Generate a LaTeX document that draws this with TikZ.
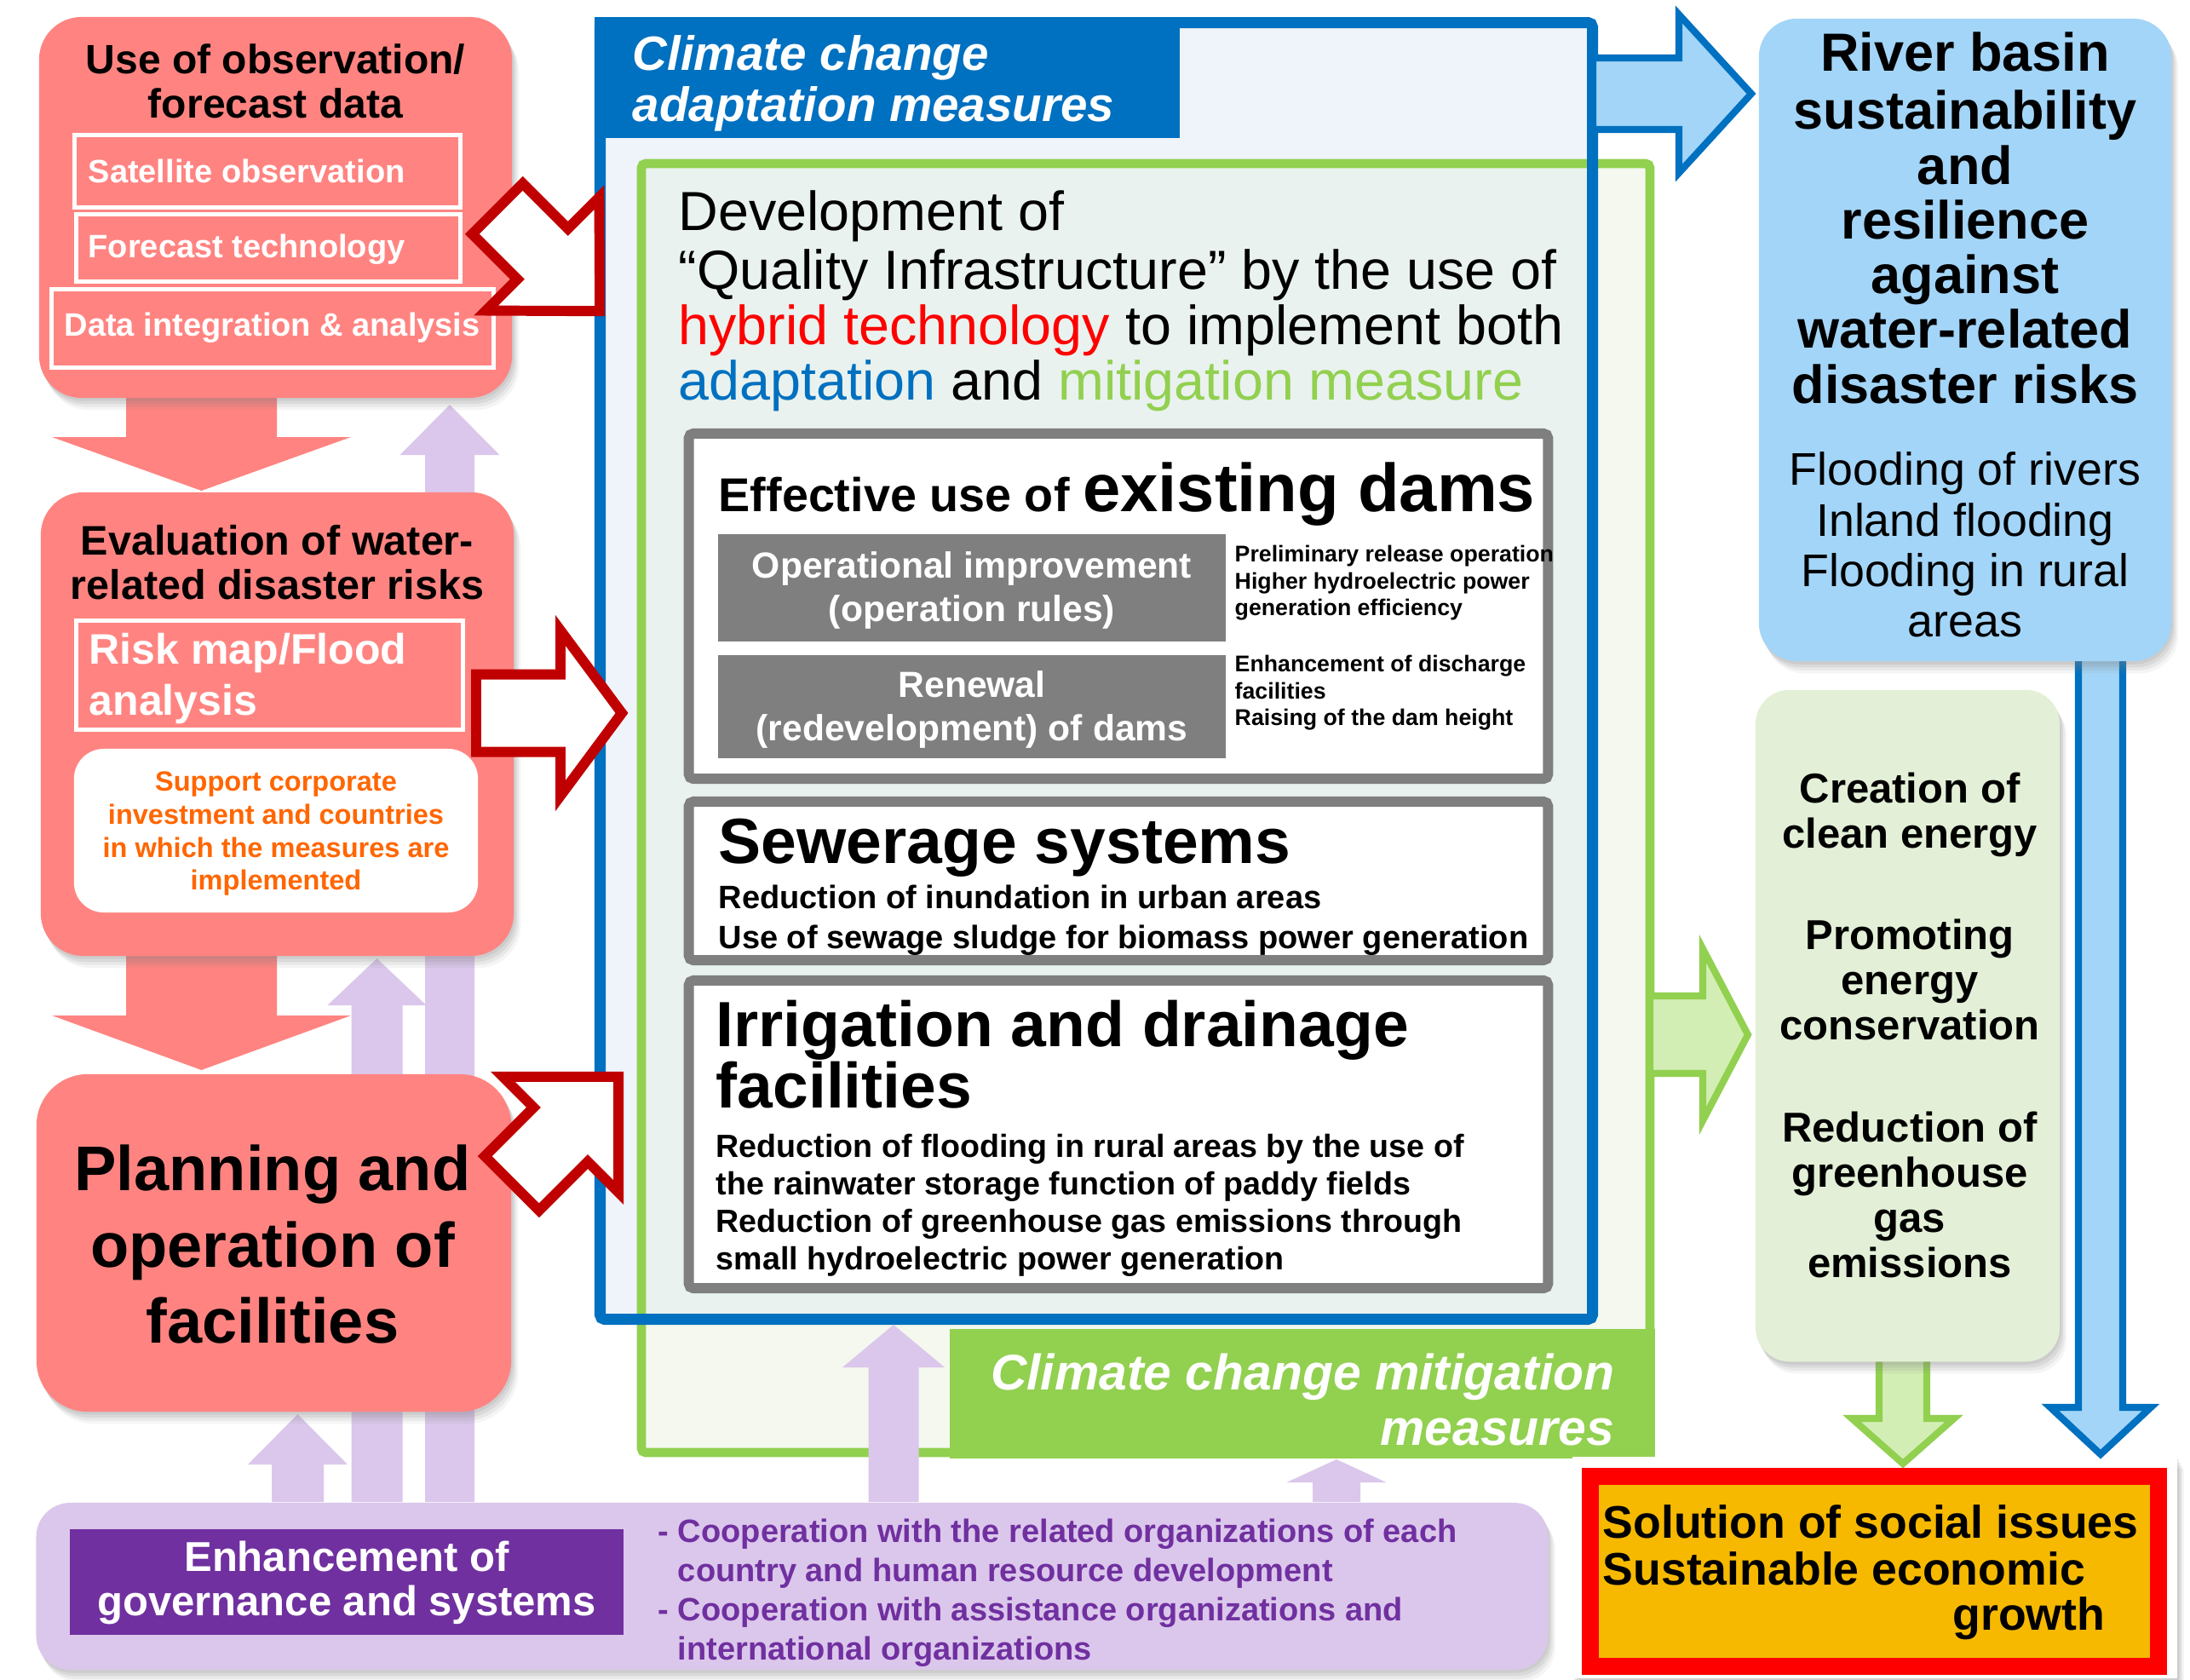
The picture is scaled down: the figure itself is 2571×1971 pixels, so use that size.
\documentclass[tikz,border=0pt]{standalone}
\usepackage{fontspec}
\setmainfont{Liberation Sans}
\usetikzlibrary{shadows}

\definecolor{salmon}{HTML}{FF8481}
\definecolor{lav}{HTML}{DBC7EB}
\definecolor{purp}{HTML}{7030A0}
\definecolor{adblue}{HTML}{0070C0}
\definecolor{skyfill}{HTML}{A3D5F8}
\definecolor{mitgreen}{HTML}{92D050}
\definecolor{palegreen}{HTML}{E3F0D7}
\definecolor{arrowgreen}{HTML}{D3EEB5}
\definecolor{darkred}{HTML}{C00000}
\definecolor{midgray}{HTML}{7F7F7F}
\definecolor{orangetext}{HTML}{FF6600}
\definecolor{gold}{HTML}{F6B900}
\definecolor{bluefill}{HTML}{EFF3FA}
\definecolor{greenfill}{HTML}{F4F8EE}
\definecolor{mixfill}{HTML}{E9F2EE}

% font size given in drawing units (1 unit = 0.01cm)
\newcommand\fpx[2]{\fontsize{\fpeval{round(#1*0.28453,2)}}{\fpeval{round(#2*0.28453,2)}}\selectfont}

% block arrow: style, tail coordinate, angle, length, shaft half-width, head length, head half-width
\newcommand\blockarrow[7]{%
  \path[#1, shift={(#2)}, rotate=#3]
    (0,-#5) -- ({#4-#6},-#5) -- ({#4-#6},-#7) -- (#4,0) -- ({#4-#6},#7) -- ({#4-#6},#5) -- (0,#5) -- cycle;}

\begin{document}
\begin{tikzpicture}[x=0.01cm, y=-0.01cm,
  softshadow/.style={
    drop shadow={opacity=0.14, shadow xshift=0.5pt, shadow yshift=-1pt},
    drop shadow={opacity=0.13, shadow xshift=1.1pt, shadow yshift=-2pt},
    drop shadow={opacity=0.11, shadow xshift=1.7pt, shadow yshift=-3pt},
    drop shadow={opacity=0.08, shadow xshift=2.3pt, shadow yshift=-4pt}},
  salmonbox/.style={fill=salmon, rounded corners=0.5cm, softshadow, inner sep=0},
  whiteframe/.style={draw=white, line width=1.5pt, fill=salmon, inner sep=0},
  graybox/.style={draw=midgray, line width=3.4pt, fill=white, rounded corners=1.5pt, inner sep=0},
  grayfill/.style={fill=midgray, inner sep=0},
  lavarrow/.style={fill=lav},
  salmonarrow/.style={fill=salmon},
  redarrow/.style={fill=white, draw=darkred, line width=3.4pt, line join=miter},
  bluearrow/.style={fill=skyfill, draw=adblue, line width=2.3pt, line join=miter},
  greenarrow/.style={fill=arrowgreen, draw=mitgreen, line width=2.3pt, line join=miter},
  txt/.style={inner sep=0}]

\useasboundingbox (0,0) rectangle (2571,1971);
\fill[white] (0,0) rectangle (2571,1971);

% ---- lavender support arrows rising from the governance box
\coordinate (lavA) at (528,1763);
\coordinate (lavB) at (442.5,1763);
\coordinate (lavC) at (349.5,1763);
\blockarrow{lavarrow}{lavA}{90}{1288}{29}{59}{58.5}
\blockarrow{lavarrow}{lavB}{90}{638}{30}{55}{58}
\blockarrow{lavarrow}{lavC}{90}{103}{30.5}{59}{58.5}

% ---- salmon flow arrows down the left column
\coordinate (salA) at (236.5,440);
\coordinate (salB) at (236.5,1100);
\blockarrow{salmonarrow}{salA}{-90}{136}{88.5}{63}{175.5}
\blockarrow{salmonarrow}{salB}{-90}{156}{88.5}{64}{175.5}

% ---- adaptation / mitigation frames
\path[fill=greenfill] (753,192) rectangle (1937,1705);
\path[fill=bluefill] (704.5,26.5) rectangle (1869.5,1548.5);
\path[fill=mixfill] (753,192) rectangle (1869.5,1548.5);
\draw[mitgreen, line width=3.1pt, rounded corners=1.5pt] (753,192) rectangle (1937,1705);
\draw[adblue, line width=3.7pt, rounded corners=1.5pt] (704.5,26.5) rectangle (1869.5,1548.5);
\path[fill=adblue] (698,20) rectangle (1385,162);
\path[fill=mitgreen] (1115,1560) rectangle (1943,1712);

\node[txt, anchor=north west, align=left, text=white, font=\fpx{56.5}{60}\bfseries\itshape] (adlabel) at (742,40)
  {\strut Climate change\\adaptation measures};
\node[txt, anchor=north east, align=right, text=white, font=\fpx{58.8}{65}\bfseries\itshape] (mitlabel) at (1896,1585.5)
  {\strut Climate change mitigation\\measures};

% ---- lavender arrows into the frames
\coordinate (lavD) at (1049,1763);
\coordinate (lavE) at (1569,1763);
\blockarrow{lavarrow}{lavD}{90}{208}{29.5}{50}{60}
\blockarrow{lavarrow}{lavE}{90}{50}{28}{27}{58.5}

% ---- left column boxes
\node[salmonbox, minimum width=5.55cm, minimum height=4.47cm] (obsbox) at (323.5,243.5) {};
\node[whiteframe, minimum width=4.53cm, minimum height=0.85cm] (satbox) at (314,201) {};
\node[whiteframe, minimum width=4.51cm, minimum height=0.79cm] (forebox) at (315,291) {};
\node[whiteframe, minimum width=5.19cm, minimum height=0.92cm] (databox) at (320,385.5) {};
\node[txt, anchor=north, align=center, font=\fpx{48}{52}\bfseries] (obstitle) at (323.5,49.6)
  {\strut Use of observation/\\forecast data};
\node[txt, anchor=base west, text=white, font=\fpx{38}{44}\bfseries] (sattext) at (103,214) {Satellite observation};
\node[txt, anchor=base west, text=white, font=\fpx{38}{44}\bfseries] (foretext) at (103,302) {Forecast technology};
\node[txt, anchor=base west, text=white, font=\fpx{38}{44}\bfseries] (datatext) at (75,394) {Data integration \& analysis};

\node[salmonbox, minimum width=5.55cm, minimum height=5.44cm] (evalbox) at (325.5,850) {};
\node[whiteframe, minimum width=4.54cm, minimum height=1.28cm] (riskbox) at (316.5,792.5) {};
\node[fill=white, rounded corners=0.35cm, inner sep=0, minimum width=4.74cm, minimum height=1.92cm] (supportbox) at (324,975) {};
\node[txt, anchor=north, align=center, font=\fpx{48.5}{52}\bfseries] (evaltitle) at (325.5,614.6)
  {\strut Evaluation of water-\\related disaster risks};
\node[txt, anchor=north west, align=left, text=white, font=\fpx{50}{60}\bfseries] (risktext) at (104,737)
  {\strut Risk map/Flood\\analysis};
\node[txt, anchor=north, align=center, text=orangetext, font=\fpx{32.5}{38.7}\bfseries] (supporttext) at (324,900.9)
  {\strut Support corporate\\investment and countries\\in which the measures are\\implemented};

\node[salmonbox, rounded corners=0.6cm, minimum width=5.57cm, minimum height=3.96cm] (planbox) at (321.5,1459) {};
\node[txt, anchor=north, align=center, font=\fpx{74}{89.5}\bfseries] (plantext) at (320,1334.4)
  {\strut Planning and\\operation of\\facilities};

% ---- governance box
\node[fill=lav, rounded corners=0.4cm, softshadow, inner sep=0, minimum width=17.74cm, minimum height=1.96cm] (govbox) at (930,1862) {};
\node[fill=purp, inner sep=0, minimum width=6.5cm, minimum height=1.24cm] (govtitlebox) at (407,1857) {};
\node[txt, anchor=north, align=center, text=white, font=\fpx{49}{52}\bfseries] (govtext) at (407,1807.6)
  {\strut Enhancement of\\governance and systems};
\node[txt, anchor=north west, align=left, text=purp, font=\fpx{38}{46}\bfseries] (govlist) at (772,1777.8)
  {\strut - Cooperation with the related organizations of each\\\hphantom{- }country and human resource development\\- Cooperation with assistance organizations and\\\hphantom{- }international organizations};

% ---- central statement
\node[txt, anchor=north west, align=left, font=\fpx{64.6}{65}] (devtext) at (796,222.5)
  {\strut Development of\\“Quality Infrastructure” by the use of\\\textcolor{red}{hybrid technology} to implement both\\\textcolor{adblue}{adaptation} and \textcolor{mitgreen}{mitigation measure}};

% ---- existing dams
\node[graybox, minimum width=10.08cm, minimum height=4.05cm] (damsbox) at (1313,711.5) {};
\node[grayfill, minimum width=5.96cm, minimum height=1.26cm] (opbox) at (1141,690) {};
\node[grayfill, minimum width=5.96cm, minimum height=1.21cm] (renewbox) at (1141,829.5) {};
\node[txt, anchor=base west, font=\bfseries] (damstitle) at (843,600)
  {\fpx{55.7}{60}Effective use of \fpx{79.6}{85}existing dams};
\node[txt, anchor=north, align=center, text=white, font=\fpx{42.6}{51}\bfseries] (optext) at (1141,642.3)
  {\strut Operational improvement\\(operation rules)};
\node[txt, anchor=north, align=center, text=white, font=\fpx{42.6}{51}\bfseries] (renewtext) at (1141,782.3)
  {\strut Renewal\\(redevelopment) of dams};
\node[txt, anchor=north west, align=left, font=\fpx{26.7}{31.5}\bfseries] (opnotes) at (1449,636.9)
  {\strut Preliminary release operation\\Higher hydroelectric power\\generation efficiency};
\node[txt, anchor=north west, align=left, font=\fpx{26.7}{31.5}\bfseries] (renewnotes) at (1449,766)
  {\strut Enhancement of discharge\\facilities\\Raising of the dam height};

% ---- sewerage
\node[graybox, minimum width=10.08cm, minimum height=1.86cm] (sewerbox) at (1313,1034) {};
\node[txt, anchor=base west, font=\fpx{75}{80}\bfseries] (sewertitle) at (843,1013) {Sewerage systems};
\node[txt, anchor=north west, align=left, font=\fpx{38}{47}\bfseries] (sewertext) at (843,1033.1)
  {\strut Reduction of inundation in urban areas\\Use of sewage sludge for biomass power generation};

% ---- irrigation
\node[graybox, minimum width=10.08cm, minimum height=3.61cm] (irrigbox) at (1313,1331.5) {};
\node[txt, anchor=base west, font=\fpx{75}{80}\bfseries] (irrtitleA) at (840,1228) {Irrigation and drainage};
\node[txt, anchor=base west, font=\fpx{75}{80}\bfseries] (irrtitleB) at (840,1300) {facilities};
\node[txt, anchor=north west, align=left, font=\fpx{37.6}{44}\bfseries] (irrtext) at (840,1327.2)
  {\strut Reduction of flooding in rural areas by the use of\\the rainwater storage function of paddy fields\\Reduction of greenhouse gas emissions through\\small hydroelectric power generation};

% ---- outcome box
\node[fill=white, softshadow, inner sep=0, minimum width=7.1cm, minimum height=2.6cm] (solpanel) at (2201,1840) {};
\node[draw=red, line width=5.7pt, fill=gold, inner sep=0, minimum width=6.67cm, minimum height=2.23cm] (solbox) at (2200.5,1844.5) {};
\node[txt, anchor=base west, font=\fpx{53.6}{55}\bfseries] (solA) at (1881,1805) {Solution of social issues};
\node[txt, anchor=base west, font=\fpx{53.6}{55}\bfseries] (solB) at (1881,1860) {Sustainable economic};
\node[txt, anchor=base east, font=\fpx{53.6}{55}\bfseries] (solC) at (2472,1913) {growth};

% ---- arrows to the right column
\coordinate (bluetop) at (1870,110);
\coordinate (bluedown) at (2466,760);
\coordinate (greenright) at (1937,1214.5);
\coordinate (greendown) at (2234,1590);
\blockarrow{bluearrow}{bluetop}{0}{186}{42}{85}{93}
\blockarrow{bluearrow}{bluedown}{-90}{947}{26}{55}{59}
\blockarrow{greenarrow}{greenright}{0}{115}{45.5}{53}{101}
\blockarrow{greenarrow}{greendown}{-90}{128}{28}{53}{60}

% ---- right column boxes
\node[fill=skyfill, rounded corners=0.45cm, softshadow, inner sep=0, minimum width=4.84cm, minimum height=7.54cm] (riverbox) at (2307,399) {};
\node[txt, anchor=north, align=center, font=\fpx{63}{64.2}\bfseries] (rivertitle) at (2307,37.1)
  {\strut River basin\\sustainability\\and\\resilience\\against\\water-related\\disaster risks};
\node[txt, anchor=north, align=center, font=\fpx{53.7}{59.3}] (riversub) at (2307,527.5)
  {\strut Flooding of rivers\\Inland flooding\\Flooding in rural\\areas};

\node[fill=palegreen, rounded corners=0.4cm, softshadow, inner sep=0, minimum width=3.57cm, minimum height=7.88cm] (cleanbox) at (2239.5,1204) {};
\node[txt, anchor=north, align=center, font=\fpx{49}{53}\bfseries] (cleanA) at (2242,904.9)
  {\strut Creation of\\clean energy};
\node[txt, anchor=north, align=center, font=\fpx{49}{53}\bfseries] (cleanB) at (2242,1076.9)
  {\strut Promoting\\energy\\conservation};
\node[txt, anchor=north, align=center, font=\fpx{49}{53}\bfseries] (cleanC) at (2242,1302.9)
  {\strut Reduction of\\greenhouse\\gas\\emissions};

% ---- red arrows from the left column into the measures
\coordinate (redA) at (584,245);
\coordinate (redB) at (559,837);
\coordinate (redC) at (601,1389);
\blockarrow{redarrow}{redA}{-45}{170}{42}{95}{94}
\blockarrow{redarrow}{redB}{0}{171}{45.5}{72}{97}
\blockarrow{redarrow}{redC}{45}{177}{45}{96}{96}

\end{tikzpicture}
\end{document}
